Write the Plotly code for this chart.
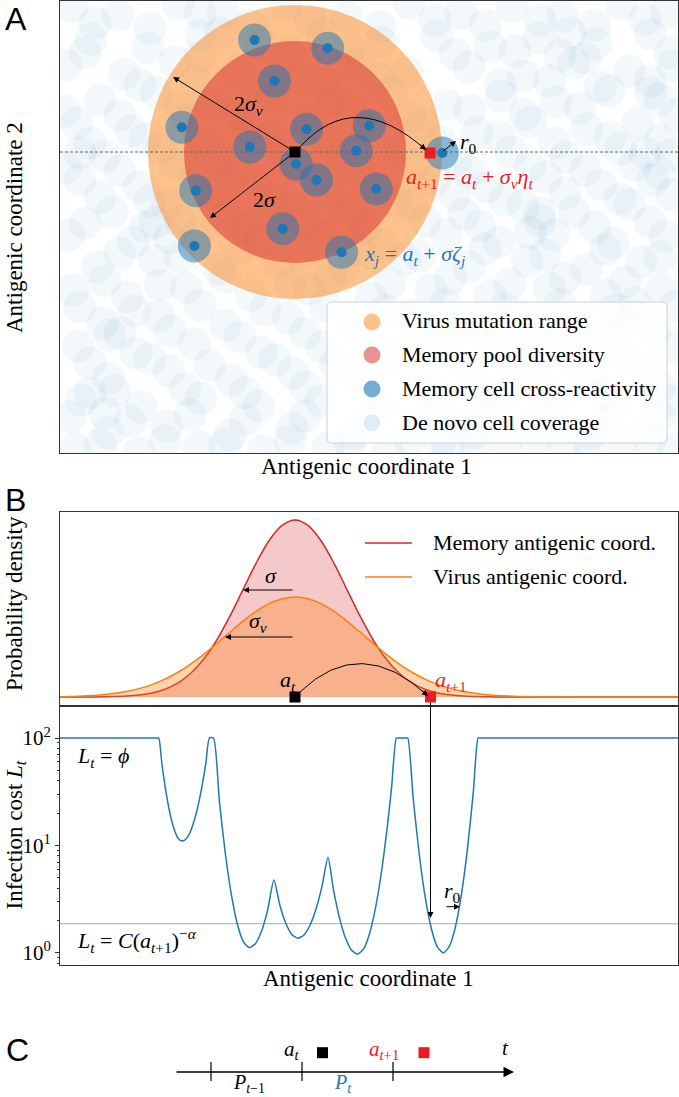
import plotly.graph_objects as go

W, H = 679, 1097
SERIF = "Liberation Serif"
SANS = "Liberation Sans"
TAB_BLUE = "#1f77b4"
TAB_ORANGE = "#ff7f0e"
TAB_RED = "#d62728"
RED = "#ec1c24"

# ---------------- data ----------------
# Panel A: antigenic map (map units)
a_t_A = [235, 301]
a_next_A = [370, 300]
virus_radius = 147
memory_radius = 111
r0 = 16.5
mem_x = [194.5, 267.7, 214.5, 121.8, 246.5, 309.3, 189.8, 296.3, 236.1, 256.5,
         135.7, 316.2, 222.7, 134.4, 281.6, 382.4]
mem_y = [413, 404.7, 372, 325.7, 323.7, 327.3, 306, 302.3, 289, 273,
         262.3, 264, 224.3, 207, 200.7, 300]
denovo_xy = [
    (12, 446), (58, 438), (118, 449), (163, 441), (226, 447), (287, 436), (349, 450), (401, 440), (452, 447), (503, 437), (561, 449), (606, 441),
    (31, 414), (88, 405), (141, 418), (200, 409), (262, 420), (321, 411), (377, 417), (430, 406), (479, 415), (536, 409), (590, 419),
    (6, 388), (64, 379), (115, 391), (177, 383), (238, 376), (298, 389), (347, 381), (409, 386), (463, 377), (514, 390), (569, 382), (613, 387),
    (40, 353), (96, 361), (152, 349), (213, 358), (271, 352), (331, 360), (386, 348), (441, 357), (496, 351), (549, 362), (600, 354),
    (17, 330), (71, 322), (127, 333), (186, 325), (249, 331), (306, 322), (363, 329), (417, 320), (471, 331), (527, 324), (578, 330),
    (45, 297), (101, 305), (159, 294), (221, 302), (282, 297), (339, 305), (396, 293), (451, 301), (506, 296), (560, 304), (611, 298),
    (20, 273), (79, 266), (134, 276), (197, 268), (256, 274), (318, 265), (374, 272), (427, 266), (486, 276), (541, 268), (593, 273),
    (52, 241), (107, 249), (168, 238), (231, 246), (291, 240), (352, 249), (404, 239), (463, 247), (514, 241), (570, 249),
    (9, 218), (73, 211), (139, 220), (199, 212), (263, 217), (324, 209), (386, 219), (439, 211), (494, 218), (553, 210), (605, 217),
    (37, 186), (94, 193), (159, 184), (219, 191), (284, 185), (345, 194), (409, 186), (467, 192), (526, 184), (581, 191),
    (13, 163), (67, 156), (126, 165), (191, 158), (250, 164), (311, 155), (371, 163), (430, 157), (489, 165), (546, 158), (601, 163),
    (43, 130), (99, 137), (165, 128), (228, 135), (290, 129), (352, 138), (406, 130), (461, 136), (519, 128), (574, 136),
    (18, 107), (76, 100), (134, 109), (201, 101), (262, 106), (324, 99), (385, 108), (441, 101), (497, 107), (556, 99), (610, 106),
    (49, 75), (109, 82), (171, 73), (233, 80), (296, 75), (357, 83), (412, 74), (469, 81), (529, 76), (585, 83),
    (21, 53), (81, 46), (141, 55), (199, 47), (261, 52), (323, 45), (379, 54), (439, 48), (499, 53), (557, 46), (608, 52),
    (48, 20), (107, 27), (170, 18), (232, 25), (294, 19), (353, 27), (413, 20), (472, 26), (531, 19), (586, 25),
    (15, 4), (79, 0), (139, 6), (203, 2), (268, 5), (327, 1), (388, 6), (446, 2), (504, 5), (562, 0), (614, 4),
    (510, 420), (525, 395), (95, 230), (110, 215), (560, 130), (575, 150), (30, 60), (45, 40), (600, 280), (585, 300),
    (480, 240), (470, 220), (140, 440), (160, 420), (380, 10), (400, 30), (545, 60), (590, 360), (60, 120), (20, 300),
    (35, 430), (90, 425), (190, 428), (250, 432), (320, 426), (375, 433), (425, 428), (480, 433), (535, 428), (585, 434),
    (25, 400), (140, 396), (230, 400), (290, 405), (395, 399), (455, 402), (500, 398), (610, 400),
    (80, 368), (135, 372), (200, 365), (265, 370), (320, 374), (440, 368), (490, 372), (540, 366), (590, 372),
    (5, 342), (60, 338), (120, 345), (180, 338), (290, 342), (350, 336), (410, 343), (465, 339), (520, 345), (615, 338),
    (30, 310), (85, 314), (145, 308), (210, 315), (270, 310), (380, 312), (440, 316), (495, 310), (550, 316), (600, 312),
    (5, 285), (60, 282), (115, 288), (175, 281), (235, 286), (300, 282), (355, 289), (410, 281), (470, 287), (525, 283), (575, 288),
    (40, 256), (90, 252), (150, 260), (210, 254), (270, 259), (335, 252), (395, 258), (445, 253), (505, 260), (560, 254), (612, 258),
    (25, 230), (85, 226), (120, 232), (185, 225), (245, 230), (305, 226), (365, 232), (420, 227), (480, 232), (535, 226), (590, 231),
    (60, 200), (120, 196), (180, 204), (240, 198), (300, 203), (360, 197), (425, 204), (485, 198), (545, 203), (600, 196),
    (45, 172), (100, 168), (165, 176), (230, 169), (270, 175), (330, 170), (390, 174), (450, 169), (505, 175), (565, 171),
    (20, 146), (75, 142), (140, 148), (205, 143), (265, 147), (325, 143), (385, 149), (445, 144), (500, 148), (555, 143), (615, 147),
    (50, 118), (110, 122), (180, 116), (245, 120), (305, 116), (365, 121), (425, 117), (480, 123), (540, 117), (595, 121),
    (30, 90), (90, 94), (150, 88), (215, 93), (275, 89), (340, 94), (400, 88), (455, 93), (515, 89), (570, 94),
    (55, 62), (125, 64), (185, 60), (245, 66), (310, 61), (370, 66), (425, 61), (485, 65), (545, 60), (600, 66),
    (10, 36), (70, 32), (130, 38), (185, 33), (245, 37), (310, 32), (365, 38), (425, 34), (485, 38), (545, 33), (600, 37),
    (40, 8), (105, 12), (165, 8), (230, 12), (290, 9), (350, 13), (415, 9), (475, 12), (530, 8), (590, 12),
]
denovo_x = [p[0] for p in denovo_xy]
denovo_y = [p[1] for p in denovo_xy]
legend_A_labels = ["Virus mutation range", "Memory pool diversity",
                   "Memory cell cross-reactivity", "De novo cell coverage"]
legend_A_colors = ["rgba(255,127,14,0.48)", "rgba(214,39,40,0.5)",
                   "rgba(31,119,180,0.6)", "rgba(31,119,180,0.12)"]

# Panel B top: probability densities along antigenic coordinate 1
coord_x = [0, 10, 27, 40, 53, 66, 79, 92, 105, 118, 131, 144, 157, 170, 183, 196, 209, 222,
           235, 248, 261, 274, 287, 300, 313, 326, 339, 352, 365, 378, 391, 404, 417, 430, 443, 460, 618]
memory_density = [0, 0, 0.0003, 0.0009, 0.0022, 0.0051, 0.0111, 0.0228, 0.0439, 0.0796, 0.1353,
                  0.2163, 0.3247, 0.4578, 0.6065, 0.7548, 0.8825, 0.9692, 1.0, 0.9692, 0.8825,
                  0.7548, 0.6065, 0.4578, 0.3247, 0.2163, 0.1353, 0.0796, 0.0439, 0.0228, 0.0111,
                  0.0051, 0.0022, 0.0009, 0.0003, 0, 0]
virus_density = [0, 0.0032, 0.0068, 0.0117, 0.0192, 0.0306, 0.0472, 0.0701, 0.1007, 0.1398, 0.1874,
                 0.2427, 0.3037, 0.3671, 0.4288, 0.4838, 0.5273, 0.5553, 0.565, 0.5553, 0.5273,
                 0.4838, 0.4288, 0.3671, 0.3037, 0.2427, 0.1874, 0.1398, 0.1007, 0.0701, 0.0472,
                 0.0306, 0.0192, 0.0117, 0.0068, 0.0032, 0]
a_t_B = 235
a_next_B = 370.5

# Panel B bottom: infection cost
cost_x = [0, 50, 97.3, 98.8, 102, 106, 110, 114, 118, 122, 126, 130, 134, 138, 142, 146, 149.4, 153.5,
          159.4, 165.4, 171.4, 177.4, 183.4, 189.4, 195.4, 201.4, 207.4, 213.9, 220, 226, 232,
          238, 244, 250, 256, 262, 268, 273.6, 279.6, 285.6, 291.6, 297.6, 303.6, 309.6, 315.6,
          321.6, 327.6, 331.6, 336.3, 337.8, 346.3, 347.8, 353.3, 359.3, 365.3, 371.3, 377.3, 383.3, 389.3,
          395.3, 401.3, 407.3, 413.3, 418, 419.5, 500, 618]
cost_L = [100, 100, 100, 100, 56.5, 31.3, 19.8, 14.3, 11.7, 11.0, 11.5, 13.2, 16.8, 23.3, 35.6, 59.8, 100,
          100, 25.8, 8.34, 3.47, 1.85, 1.27, 1.12, 1.22, 1.585, 2.45, 4.78, 2.75, 1.87, 1.48,
          1.37, 1.47, 1.81, 2.56, 4.16, 7.76, 3.82, 2.10, 1.37, 1.06, 0.977, 1.09, 1.52, 2.66,
          5.79, 15.8, 34.8, 100, 100, 100, 100, 26.8, 8.2, 3.27, 1.69, 1.14, 1.0, 1.15, 1.73, 3.45, 9.04,
          31.2, 100, 100, 100, 100]
cost_threshold = 1.87
cost_ticks = [1, 10, 100]
cost_ticktext = ["10<sup>0</sup>", "10<sup>1</sup>", "10<sup>2</sup>"]
cost_minor = [0.8, 0.9, 2, 3, 4, 5, 6, 7, 8, 9, 20, 30, 40, 50, 60, 70, 80, 90, 200]

# Panel C: timeline (schematic units)
period_ticks = [211, 302, 393]
a_t_C = [322.5, 1052.7]
a_next_C = [424, 1052.7]

# ---------------- helpers (layout positions only) ----------------
def X(px):
    return px / W


def Y(py):
    return 1 - py / H


fig = go.Figure()
shapes = []
ann = []

def text(px, py, t, size=22, color="black", xanchor="center", family=SERIF, angle=0):
    ann.append(dict(x=X(px), y=Y(py), xref="paper", yref="paper", text=t, showarrow=False,
                    xanchor=xanchor, yanchor="middle", textangle=angle,
                    font=dict(family=family, size=size, color=color)))


def arrow(hx, hy, tx, ty, width=1.0, size=1.2, head=2, color="black"):
    ann.append(dict(x=X(hx), y=Y(hy), xref="paper", yref="paper", text="", showarrow=True,
                    ax=tx - hx, ay=ty - hy, axref="pixel", ayref="pixel",
                    arrowhead=head, arrowsize=size, arrowwidth=width, arrowcolor=color,
                    standoff=0, startstandoff=0))

# ---------------- Panel A ----------------
for cx, cy in zip(denovo_x, denovo_y):
    shapes.append(dict(type="circle", xref="x", yref="y", x0=cx - r0, x1=cx + r0,
                       y0=cy - r0, y1=cy + r0, fillcolor="rgba(31,119,180,0.055)",
                       line=dict(width=0), layer="below"))
shapes.append(dict(type="circle", xref="x", yref="y",
                   x0=a_t_A[0] - virus_radius, x1=a_t_A[0] + virus_radius,
                   y0=a_t_A[1] - virus_radius, y1=a_t_A[1] + virus_radius,
                   fillcolor="rgba(255,127,14,0.48)", line=dict(width=0), layer="below"))
shapes.append(dict(type="circle", xref="x", yref="y",
                   x0=a_t_A[0] - memory_radius, x1=a_t_A[0] + memory_radius,
                   y0=a_t_A[1] - memory_radius, y1=a_t_A[1] + memory_radius,
                   fillcolor="rgba(214,39,40,0.5)", line=dict(width=0), layer="below"))
shapes.append(dict(type="line", xref="x", yref="y", x0=0, x1=618, y0=a_t_A[1], y1=a_t_A[1],
                   line=dict(color="#666", width=1, dash="3px,2px"), layer="below"))
for cx, cy in zip(mem_x, mem_y):
    shapes.append(dict(type="circle", xref="x", yref="y", x0=cx - r0, x1=cx + r0,
                       y0=cy - r0, y1=cy + r0, fillcolor="rgba(31,119,180,0.5)",
                       line=dict(width=0), layer="below"))
# legend box (rounded)
bx0, bx1, by0, by1, rr = 267, 607, 10, 151, 5
legend_path = (f"M {bx0+rr},{by0} L {bx1-rr},{by0} Q {bx1},{by0} {bx1},{by0+rr} "
               f"L {bx1},{by1-rr} Q {bx1},{by1} {bx1-rr},{by1} L {bx0+rr},{by1} "
               f"Q {bx0},{by1} {bx0},{by1-rr} L {bx0},{by0+rr} Q {bx0},{by0} {bx0+rr},{by0} Z")
shapes.append(dict(type="path", xref="x", yref="y", path=legend_path,
                   fillcolor="rgba(255,255,255,0.82)", line=dict(color="#d0d0d0", width=1),
                   layer="below"))

fig.add_trace(go.Scatter(x=mem_x, y=mem_y, mode="markers", xaxis="x", yaxis="y",
                         marker=dict(size=10, color=TAB_BLUE), hoverinfo="skip"))
fig.add_trace(go.Scatter(x=[a_t_A[0]], y=[a_t_A[1]], mode="markers", xaxis="x", yaxis="y",
                         marker=dict(symbol="square", size=11, color="black"), hoverinfo="skip"))
fig.add_trace(go.Scatter(x=[a_next_A[0]], y=[a_next_A[1]], mode="markers", xaxis="x", yaxis="y",
                         marker=dict(symbol="square", size=11, color=RED), hoverinfo="skip"))
legend_y_px = [322, 355, 389, 423]
fig.add_trace(go.Scatter(x=[312] * 4, y=[453 - v for v in legend_y_px], mode="markers",
                         xaxis="x", yaxis="y",
                         marker=dict(size=17, color=legend_A_colors, line=dict(width=0)),
                         hoverinfo="skip"))
for lab, py in zip(legend_A_labels, legend_y_px):
    text(400, py - 1, lab, xanchor="left")

# arrows and labels panel A
arrow(173, 77, 295, 152)
arrow(210, 218, 295, 152)
shapes.append(dict(type="path", xref="paper", yref="paper", layer="above",
                   path=f"M {X(300)},{Y(147)} Q {X(354.5)},{Y(86.5)} {X(426)},{Y(150)}",
                   line=dict(color="black", width=1)))
arrow(426, 150, 418.5, 143.4)
arrow(456, 141, 442, 152)
text(248, 105, "2<i>σ<sub>v</sub></i>")
text(264, 200, "2<i>σ</i>")
text(468, 143, "<i>r</i><sub>0</sub>")
text(404, 178, "<i>a</i><sub><i>t</i>+1</sub> = <i>a<sub>t</sub></i> + <i>σ<sub>v</sub>η<sub>t</sub></i>",
     color=RED, xanchor="left")
text(362, 255, "<i>x<sub>j</sub></i> = <i>a<sub>t</sub></i> + <i>σζ<sub>j</sub></i>",
     color=TAB_BLUE, xanchor="left")
text(366, 467, "Antigenic coordinate 1", size=23)
text(14, 228, "Antigenic coordinate 2", size=23, angle=-90)
text(3, 18.5, "A", size=32, family=SANS, xanchor="left")

# ---------------- Panel B top ----------------
fig.add_trace(go.Scatter(x=coord_x, y=memory_density, mode="lines", xaxis="x2", yaxis="y2",
                         line=dict(color=TAB_RED, width=1.5, shape="spline"), fill="tozeroy",
                         fillcolor="rgba(214,39,40,0.25)", hoverinfo="skip"))
fig.add_trace(go.Scatter(x=coord_x, y=virus_density, mode="lines", xaxis="x2", yaxis="y2",
                         line=dict(color=TAB_ORANGE, width=1.5, shape="spline"), fill="tozeroy",
                         fillcolor="rgba(255,127,14,0.33)", hoverinfo="skip"))
fig.add_trace(go.Scatter(x=[a_t_B], y=[0], mode="markers", xaxis="x2", yaxis="y2",
                         marker=dict(symbol="square", size=11, color="black"), hoverinfo="skip"))
fig.add_trace(go.Scatter(x=[a_next_B], y=[0], mode="markers", xaxis="x2", yaxis="y2",
                         marker=dict(symbol="square", size=11, color=RED), hoverinfo="skip"))
shapes.append(dict(type="line", xref="paper", yref="paper", x0=X(365), x1=X(412), y0=Y(543), y1=Y(543),
                   line=dict(color=TAB_RED, width=1.5)))
shapes.append(dict(type="line", xref="paper", yref="paper", x0=X(365), x1=X(412), y0=Y(577), y1=Y(577),
                   line=dict(color=TAB_ORANGE, width=1.5)))
text(431, 542, "Memory antigenic coord.", xanchor="left")
text(431, 576, "Virus antigenic coord.", xanchor="left")
arrow(243, 590, 294, 590)
arrow(225, 637, 294, 637)
text(271, 575, "<i>σ</i>")
text(258, 622, "<i>σ<sub>v</sub></i>")
text(288, 681, "<i>a<sub>t</sub></i>")
text(451, 681, "<i>a</i><sub><i>t</i>+1</sub>", color=RED)
shapes.append(dict(type="path", xref="paper", yref="paper", layer="above",
                   path=f"M {X(300)},{Y(692)} Q {X(360.9)},{Y(633.2)} {X(428)},{Y(696)}",
                   line=dict(color="black", width=1)))
arrow(428, 696, 420.6, 689.2)
text(14, 604, "Probability density", size=23, angle=-90)
text(3, 499.5, "B", size=32, family=SANS, xanchor="left")

# ---------------- Panel B bottom ----------------
fig.add_trace(go.Scatter(x=[0, 618], y=[cost_threshold, cost_threshold], mode="lines",
                         xaxis="x3", yaxis="y3", line=dict(color="#aaaaaa", width=1.2),
                         hoverinfo="skip"))
fig.add_trace(go.Scatter(x=cost_x, y=cost_L, mode="lines", xaxis="x3", yaxis="y3",
                         line=dict(color=TAB_BLUE, width=1.5, shape="spline", smoothing=0.6),
                         hoverinfo="skip"))
arrow(430.5, 918, 430.5, 701)
arrow(460, 906.7, 445, 906.7)
text(452, 892, "<i>r</i><sub>0</sub>")
text(75, 757, "<i>L<sub>t</sub></i> = <i>ϕ</i>", xanchor="left")
text(75, 940, "<i>L<sub>t</sub></i> = <i>C</i>(<i>a</i><sub><i>t</i>+1</sub>)<sup>−<i>α</i></sup>",
     xanchor="left")
text(368, 978, "Antigenic coordinate 1", size=23)
text(15.5, 835, "Infection cost <i>L<sub>t</sub></i>", size=23, angle=-90)

# ---------------- Panel C ----------------
fig.add_trace(go.Scatter(x=[a_t_C[0]], y=[a_t_C[1]], mode="markers", xaxis="x4", yaxis="y4",
                         marker=dict(symbol="square", size=11, color="black"), hoverinfo="skip"))
fig.add_trace(go.Scatter(x=[a_next_C[0]], y=[a_next_C[1]], mode="markers", xaxis="x4", yaxis="y4",
                         marker=dict(symbol="square", size=11, color=RED), hoverinfo="skip"))
for tx in period_ticks:
    shapes.append(dict(type="line", xref="x4", yref="y4", x0=tx, x1=tx, y0=1062, y1=1081,
                       line=dict(color="black", width=1.2)))
arrow(514, 1072, 175, 1072, width=1.5, size=1.4, head=2)
text(249, 1083, "<i>P</i><sub><i>t</i>−1</sub>", size=20)
text(343, 1083, "<i>P<sub>t</sub></i>", size=20, color=TAB_BLUE)
text(292, 1050, "<i>a<sub>t</sub></i>", size=21)
text(384, 1050, "<i>a</i><sub><i>t</i>+1</sub>", size=21, color=RED)
text(505, 1048, "<i>t</i>", size=21)
text(4, 1050, "C", size=32, family=SANS, xanchor="left")

# ---------------- axes ----------------
frame = dict(showgrid=False, zeroline=False, showticklabels=False, ticks="", showline=True,
             mirror=True, linecolor="#333", linewidth=1, fixedrange=True)
fig.update_layout(
    width=W, height=H, autosize=False,
    margin=dict(l=0, r=0, t=0, b=0),
    paper_bgcolor="white", plot_bgcolor="rgba(0,0,0,0)",
    showlegend=False,
    xaxis=dict(domain=[X(60), X(678)], range=[0, 618], anchor="y", **frame),
    yaxis=dict(domain=[Y(453), Y(1)], range=[0, 452], anchor="x", **frame),
    xaxis2=dict(domain=[X(60), X(678)], range=[0, 618], anchor="y2", **frame),
    yaxis2=dict(domain=[Y(706), Y(512)], range=[-0.0508, 1.045], anchor="x2", **frame),
    xaxis3=dict(domain=[X(60), X(678)], range=[0, 618], anchor="y3", **frame),
    yaxis3=dict(domain=[Y(965), Y(706)], type="log", range=[-0.112, 2.298], anchor="x3",
                showgrid=False, zeroline=False, showline=True, mirror=True, linecolor="#333",
                linewidth=1, ticks="outside", ticklen=4, tickcolor="#333",
                tickvals=cost_ticks, ticktext=cost_ticktext,
                tickfont=dict(family=SERIF, size=21, color="black"),
                minor=dict(ticks="outside", ticklen=2, tickcolor="#333", tickvals=cost_minor),
                fixedrange=True),
    xaxis4=dict(domain=[0, 1], range=[0, W], anchor="y4", visible=False, fixedrange=True),
    yaxis4=dict(domain=[0, Y(1030)], range=[H, 1030], anchor="x4", visible=False, fixedrange=True),
    shapes=shapes,
    annotations=ann,
)

fig.write_html("out.html", config={"displayModeBar": False},
               post_script="document.body.style.margin='0px';document.body.style.overflow='hidden';")
